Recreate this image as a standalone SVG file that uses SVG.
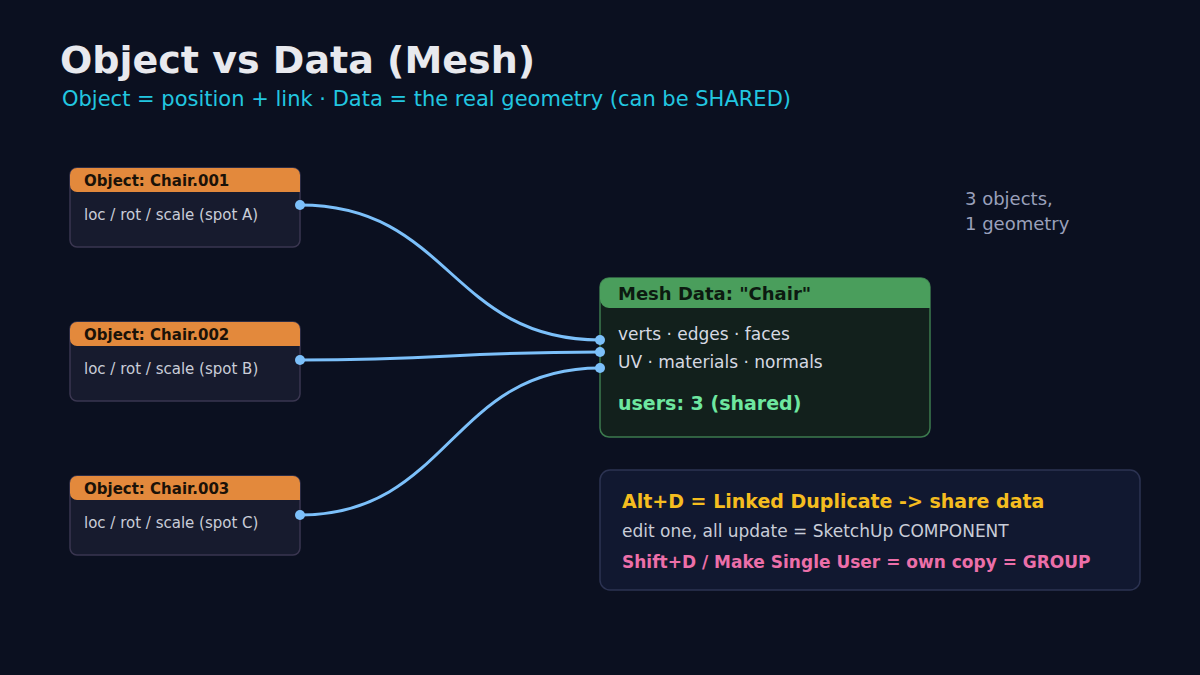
<svg xmlns="http://www.w3.org/2000/svg" width="1200" height="675" viewBox="0 0 1200 675">
<defs>
<style>
text{font-family:"DejaVu Sans","Noto Sans",sans-serif}
.obj{fill:#171b2e;stroke:#3a3650;stroke-width:1.5}
.objh{fill:#e3893c}
.objt{font-size:15px;font-weight:bold;fill:#1a1208}
.objb{font-size:15px;fill:#c9cdd8}
.wire{fill:none;stroke:#7cc0fa;stroke-width:3}
.port{fill:#7cc0fa}
</style>
</defs>
<rect width="1200" height="675" fill="#0b1020"/>
<text x="60" y="73" font-size="38" font-weight="bold" fill="#e8e9ee">Object vs Data (Mesh)</text>
<text x="62" y="106" font-size="21" fill="#22c7e0">Object = position + link · Data = the real geometry (can be SHARED)</text>
<text x="965" y="205" font-size="18" fill="#9aa0bb">3 objects,</text>
<text x="965" y="230" font-size="18" fill="#9aa0bb">1 geometry</text>
<g id="connectors">
<path class="wire" d="M300,205 C450,205 450,340 600,340"/>
<path class="wire" d="M300,360 C450,360 450,352 600,352"/>
<path class="wire" d="M300,515 C450,515 450,368 600,368"/>
</g>
<g id="obj1">
<rect class="obj" x="70" y="168" width="230" height="79" rx="7"/>
<path class="objh" d="M70,192 V175 a7,7 0 0 1 7,-7 H293 a7,7 0 0 1 7,7 V192 H77 a7,7 0 0 1 -7,-7z"/>
<text class="objt" x="84" y="186">Object: Chair.001</text>
<text class="objb" x="84" y="220">loc / rot / scale (spot A)</text>
<circle class="port" cx="300" cy="205" r="5"/>
</g>
<g id="obj2">
<rect class="obj" x="70" y="322" width="230" height="79" rx="7"/>
<path class="objh" d="M70,346 V329 a7,7 0 0 1 7,-7 H293 a7,7 0 0 1 7,7 V346 H77 a7,7 0 0 1 -7,-7z"/>
<text class="objt" x="84" y="340">Object: Chair.002</text>
<text class="objb" x="84" y="374">loc / rot / scale (spot B)</text>
<circle class="port" cx="300" cy="360" r="5"/>
</g>
<g id="obj3">
<rect class="obj" x="70" y="476" width="230" height="79" rx="7"/>
<path class="objh" d="M70,500 V483 a7,7 0 0 1 7,-7 H293 a7,7 0 0 1 7,7 V500 H77 a7,7 0 0 1 -7,-7z"/>
<text class="objt" x="84" y="494">Object: Chair.003</text>
<text class="objb" x="84" y="528">loc / rot / scale (spot C)</text>
<circle class="port" cx="300" cy="515" r="5"/>
</g>
<g id="mesh">
<rect x="600" y="278" width="330" height="159" rx="9" fill="#12201c" stroke="#3c7a4e" stroke-width="1.5"/>
<path d="M600,308 V287 a9,9 0 0 1 9,-9 H921 a9,9 0 0 1 9,9 V308 H609 a9,9 0 0 1 -9,-9z" fill="#4a9e5c"/>
<text x="618" y="300" font-size="18" font-weight="bold" fill="#0c1a10">Mesh Data: "Chair"</text>
<text x="618" y="340" font-size="17" fill="#d6d9e2">verts · edges · faces</text>
<text x="618" y="368" font-size="17" fill="#d6d9e2">UV · materials · normals</text>
<text x="618" y="410" font-size="19" font-weight="bold" fill="#6ee7a0">users: 3 (shared)</text>
<circle class="port" cx="600" cy="340" r="5"/>
<circle class="port" cx="600" cy="352" r="5"/>
<circle class="port" cx="600" cy="368" r="5"/>
</g>
<g id="info">
<rect x="600" y="470" width="540" height="120" rx="10" fill="#111830" stroke="#2c3352" stroke-width="1.5"/>
<text x="622" y="508" font-size="19" font-weight="bold" fill="#f5bd1f">Alt+D = Linked Duplicate -&gt; share data</text>
<text x="622" y="537" font-size="17" fill="#c9cdd8">edit one, all update = SketchUp COMPONENT</text>
<text x="622" y="568" font-size="17" font-weight="bold" fill="#ec6fa9">Shift+D / Make Single User = own copy = GROUP</text>
</g>
</svg>
